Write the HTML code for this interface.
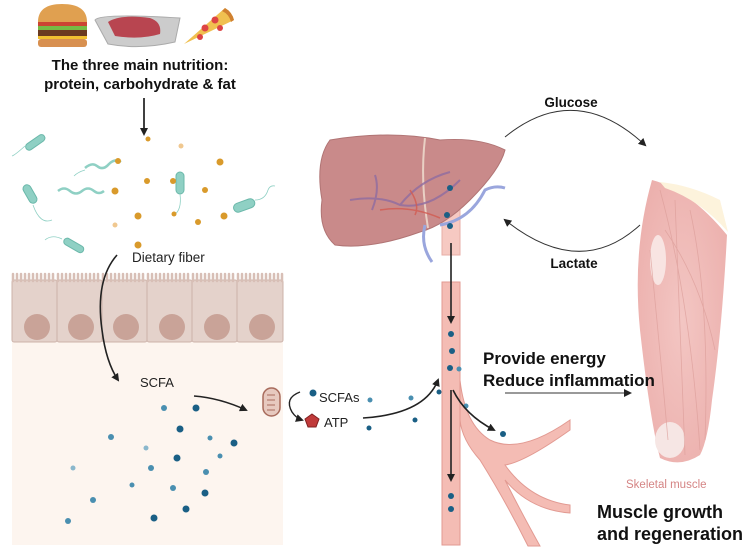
<!DOCTYPE html>
<html><head><meta charset="utf-8"><style>
html,body{margin:0;padding:0;background:#fff;}
svg{display:block;}
text{font-family:"Liberation Sans",Arial,sans-serif;}
.b{font-weight:bold;fill:#111;}
</style></head><body>
<svg width="753" height="556" viewBox="0 0 753 556" xmlns="http://www.w3.org/2000/svg">
<defs>
<marker id="ah" markerWidth="8" markerHeight="8" refX="6" refY="4" orient="auto" markerUnits="userSpaceOnUse"><path d="M0,0 L8,4 L0,8 z" fill="#222"/></marker>
<radialGradient id="mg" cx="0.5" cy="0.5" r="0.6"><stop offset="0" stop-color="#f3c6c3"/><stop offset="1" stop-color="#ecb0ad"/></radialGradient>
</defs>

<g>
<path d="M38,22 Q38,4 62,4 Q87,4 87,22 z" fill="#e0a050"/>
<rect x="38" y="22" width="49" height="4" fill="#c43"/>
<rect x="38" y="26" width="49" height="4" fill="#7b4"/>
<rect x="38" y="30" width="49" height="6" fill="#6a3a20"/>
<rect x="38" y="36" width="49" height="3" fill="#f0c030"/>
<rect x="38" y="39" width="49" height="8" rx="3" fill="#d89050"/>
<path d="M95,20 Q100,13 180,18 L175,42 Q140,50 108,44 z" fill="#ccc" stroke="#aaa"/>
<path d="M108,22 Q120,14 150,18 Q162,22 160,34 Q140,40 115,36 z" fill="#b84550"/>
<path d="M184,44 L225,8 Q232,12 234,20 z" fill="#f0c050"/>
<path d="M225,8 Q232,12 234,20 L231,22 Q229,14 222,11 z" fill="#d08030"/>
<circle cx="205" cy="28" r="3.5" fill="#d44"/><circle cx="215" cy="20" r="3.5" fill="#d44"/><circle cx="200" cy="37" r="3" fill="#d44"/><circle cx="220" cy="28" r="3" fill="#d44"/>
</g>
<text x="140" y="70" text-anchor="middle" class="b" font-size="15">The three main nutrition:</text>
<text x="140" y="89" text-anchor="middle" class="b" font-size="15">protein, carbohydrate &amp; fat</text>
<line x1="144" y1="98" x2="144" y2="134" stroke="#111" stroke-width="1.6" marker-end="url(#ah)"/>

<g fill="#8fd0c4" stroke="#6bb8aa" stroke-width="1">
<rect x="24" y="139" width="22" height="7" rx="3.5" transform="rotate(-35 35 142)"/>
<rect x="20" y="190" width="20" height="8" rx="4" transform="rotate(60 30 194)"/>
<rect x="176" y="172" width="8" height="22" rx="4"/>
<rect x="233" y="201" width="22" height="9" rx="4.5" transform="rotate(-20 244 205)"/>
<rect x="63" y="242" width="22" height="7" rx="3.5" transform="rotate(30 74 245)"/>
</g>
<g fill="none" stroke="#8fd0c4" stroke-width="2.5">
<path d="M85,168 q7,-6 12,-2 q6,5 12,-2 q6,-6 12,-2"/>
<path d="M58,191 q6,-5 12,0 q6,5 12,0 q6,-5 12,0 q5,4 10,0"/>
</g>
<g fill="none" stroke="#8fd0c4" stroke-width="0.8">
<path d="M25,146 Q15,155 12,156"/><path d="M33,205 Q40,225 52,220"/><path d="M180,194 Q182,210 174,215"/><path d="M255,200 Q265,200 268,190 Q270,185 275,186"/><path d="M62,239 Q52,234 45,240"/><path d="M85,170 Q78,172 74,176"/>
</g>
<g fill="#d99a2b">
<circle cx="148" cy="139" r="2.5"/><circle cx="118" cy="161" r="3"/><circle cx="220" cy="162" r="3.5"/><circle cx="147" cy="181" r="3"/><circle cx="173" cy="181" r="3"/><circle cx="115" cy="191" r="3.5"/><circle cx="205" cy="190" r="3"/><circle cx="138" cy="216" r="3.5"/><circle cx="174" cy="214" r="2.5"/><circle cx="198" cy="222" r="3"/><circle cx="224" cy="216" r="3.5"/><circle cx="138" cy="245" r="3.5"/>
</g>
<circle cx="181" cy="146" r="2.5" fill="#f0c890"/><circle cx="115" cy="225" r="2.5" fill="#f0c890"/>

<text x="132" y="262" font-size="13.5" fill="#222">Dietary fiber</text>

<rect x="12" y="342" width="271" height="203" fill="#fdf5ef"/>
<g fill="#e4d2cb" stroke="#cdb3aa" stroke-width="1">
<rect x="12" y="280" width="45" height="62" rx="2"/><rect x="57" y="280" width="45" height="62" rx="2"/><rect x="102" y="280" width="45" height="62" rx="2"/><rect x="147" y="280" width="45" height="62" rx="2"/><rect x="192" y="280" width="45" height="62" rx="2"/><rect x="237" y="280" width="46" height="62" rx="2"/>
</g>
<path d="M13,281 V274 M17,281 V274 M21,281 V274 M25,281 V274 M29,281 V274 M33,281 V274 M37,281 V274 M41,281 V274 M45,281 V274 M49,281 V274 M53,281 V274 M58,281 V274 M62,281 V274 M66,281 V274 M70,281 V274 M74,281 V274 M78,281 V274 M82,281 V274 M86,281 V274 M90,281 V274 M94,281 V274 M98,281 V274 M103,281 V274 M107,281 V274 M111,281 V274 M115,281 V274 M119,281 V274 M123,281 V274 M127,281 V274 M131,281 V274 M135,281 V274 M139,281 V274 M143,281 V274 M148,281 V274 M152,281 V274 M156,281 V274 M160,281 V274 M164,281 V274 M168,281 V274 M172,281 V274 M176,281 V274 M180,281 V274 M184,281 V274 M188,281 V274 M193,281 V274 M197,281 V274 M201,281 V274 M205,281 V274 M209,281 V274 M213,281 V274 M217,281 V274 M221,281 V274 M225,281 V274 M229,281 V274 M233,281 V274 M238,281 V274 M242,281 V274 M246,281 V274 M250,281 V274 M254,281 V274 M258,281 V274 M262,281 V274 M266,281 V274 M270,281 V274 M274,281 V274 M278,281 V274 M282,281 V274" stroke="#d8bfb6" stroke-width="2.5" stroke-linecap="round"/>
<g fill="#c9a398">
<circle cx="37" cy="327" r="13"/><circle cx="81" cy="327" r="13"/><circle cx="126" cy="327" r="13"/><circle cx="172" cy="327" r="13"/><circle cx="217" cy="327" r="13"/><circle cx="262" cy="327" r="13"/>
</g>
<path d="M117,255 Q95,280 102,330 Q106,362 118,380" fill="none" stroke="#222" stroke-width="1.6" marker-end="url(#ah)"/>
<text x="140" y="387" font-size="13" fill="#222">SCFA</text>
<path d="M194,396 Q220,398 246,410" fill="none" stroke="#222" stroke-width="1.6" marker-end="url(#ah)"/>

<g fill="#1a5f85">
<circle cx="196" cy="408" r="3.5"/><circle cx="180" cy="429" r="3.5"/><circle cx="234" cy="443" r="3.5"/><circle cx="177" cy="458" r="3.5"/><circle cx="205" cy="493" r="3.5"/><circle cx="186" cy="509" r="3.5"/><circle cx="154" cy="518" r="3.5"/>
</g>
<g fill="#4a8fb0">
<circle cx="164" cy="408" r="3"/><circle cx="111" cy="437" r="3"/><circle cx="210" cy="438" r="2.5"/><circle cx="151" cy="468" r="3"/><circle cx="220" cy="456" r="2.5"/><circle cx="206" cy="472" r="3"/><circle cx="132" cy="485" r="2.5"/><circle cx="173" cy="488" r="3"/><circle cx="93" cy="500" r="3"/><circle cx="68" cy="521" r="3"/><circle cx="146" cy="448" r="2.5" fill="#8ab7cc"/><circle cx="73" cy="468" r="2.5" fill="#8ab7cc"/>
</g>

<rect x="263" y="388" width="17" height="28" rx="8.5" fill="#e7c9bf" stroke="#a86b5c" stroke-width="1.5"/>
<path d="M267,395 h8 M267,400 h8 M267,405 h8 M267,410 h8" stroke="#a86b5c" stroke-width="1"/>
<path d="M300,392 Q284,398 292,412 Q296,418 302,420" fill="none" stroke="#222" stroke-width="1.4" marker-end="url(#ah)"/>
<circle cx="313" cy="393" r="3.5" fill="#1a5f85"/>
<text x="319" y="402" font-size="13" fill="#222">SCFAs</text>
<path d="M312,414 L319,419 L316,427 L308,427 L305,419 z" fill="#c03a3a" stroke="#802020"/>
<text x="324" y="427" font-size="13" fill="#222">ATP</text>
<g fill="#1a5f85"><circle cx="370" cy="400" r="2.5" fill="#4a8fb0"/><circle cx="369" cy="428" r="2.5"/><circle cx="411" cy="398" r="2.5" fill="#4a8fb0"/><circle cx="415" cy="420" r="2.5"/><circle cx="439" cy="392" r="2.5"/></g>
<path d="M363,418 Q425,414 438,380" fill="none" stroke="#222" stroke-width="1.6" marker-end="url(#ah)"/>

<g fill="#f4bcb4" stroke="#e29a92" stroke-width="1">
<path d="M442,282 H460 V545 H442 z"/>
<path d="M460,380 Q465,425 490,440 Q520,455 570,420 L570,430 Q525,462 505,465 Q530,500 570,505 L570,513 Q530,510 505,480 Q520,510 540,546 L528,546 Q505,500 480,460 Q462,440 460,420 z"/>
<path d="M442,180 H460 V255 H442 z" opacity="0.8"/>
</g>
<path d="M330,140 Q390,130 440,140 Q480,137 505,150 Q500,170 470,200 Q445,225 420,232 Q370,250 335,245 Q318,230 322,200 Q315,160 330,140 z" fill="#c98a8a" stroke="#b07474" stroke-width="1"/>
<path d="M425,138 Q420,180 428,228" stroke="#e9d0c4" stroke-width="2" fill="none"/>
<g fill="none" stroke="#8e6ba0" stroke-width="2" opacity="0.8">
<path d="M350,200 Q380,195 400,205 Q430,210 460,180 M375,175 Q380,190 372,210 M400,205 Q420,180 450,172"/>
</g>
<g fill="none" stroke="#d25a50" stroke-width="1.5" opacity="0.8">
<path d="M380,210 Q410,205 440,218 M410,190 Q420,205 415,215"/>
</g>
<path d="M425,225 Q420,245 432,262 M440,225 Q470,220 485,190 Q495,185 505,188" fill="none" stroke="#9aa6dd" stroke-width="3"/>
<g fill="#1a5f85">
<circle cx="450" cy="188" r="3"/><circle cx="447" cy="215" r="3"/><circle cx="450" cy="226" r="3"/>
<circle cx="451" cy="334" r="3"/><circle cx="452" cy="351" r="3"/><circle cx="450" cy="368" r="3"/><circle cx="459" cy="369" r="2.5" fill="#4a8fb0"/><circle cx="503" cy="434" r="3"/><circle cx="466" cy="406" r="2.5" fill="#4a8fb0"/><circle cx="451" cy="496" r="3"/><circle cx="451" cy="509" r="3"/>
</g>
<line x1="451" y1="243" x2="451" y2="322" stroke="#222" stroke-width="1.6" marker-end="url(#ah)"/>
<line x1="451" y1="390" x2="451" y2="480" stroke="#222" stroke-width="1.6" marker-end="url(#ah)"/>
<path d="M453,390 Q465,415 494,430" fill="none" stroke="#222" stroke-width="1.6" marker-end="url(#ah)"/>

<text x="571" y="107" text-anchor="middle" class="b" font-size="13.5">Glucose</text>
<path d="M505,137 Q575,80 645,145" fill="none" stroke="#333" stroke-width="1" marker-end="url(#ah)"/>
<path d="M640,225 Q580,280 505,220" fill="none" stroke="#333" stroke-width="1" marker-end="url(#ah)"/>
<text x="574" y="268" text-anchor="middle" class="b" font-size="13.5">Lactate</text>

<path d="M652,180 Q690,190 727,235 Q722,330 712,400 Q708,440 700,455 Q680,468 660,458 Q650,420 640,330 Q632,250 652,180 z" fill="url(#mg)"/>
<path d="M660,182 Q690,185 720,200 L728,232 Q700,200 665,188 z" fill="#fdf3dc"/>
<ellipse cx="658" cy="260" rx="8" ry="25" fill="#f8e4e2"/>
<ellipse cx="670" cy="440" rx="15" ry="18" fill="#f6e6e4"/>
<g fill="none" stroke="#dc9c99" stroke-width="0.8" opacity="0.7">
<path d="M660,190 Q690,300 700,450 M675,200 Q680,320 685,455 M690,210 Q710,300 705,440 M650,250 Q660,350 668,440 M665,230 Q700,280 715,350"/>
</g>

<text x="483" y="364" class="b" font-size="17">Provide energy</text>
<text x="483" y="386" class="b" font-size="17">Reduce inflammation</text>
<line x1="505" y1="393" x2="630" y2="393" stroke="#333" stroke-width="1" marker-end="url(#ah)"/>
<text x="626" y="488" font-size="11.5" fill="#d58585">Skeletal muscle</text>
<text x="597" y="518" class="b" font-size="18">Muscle growth</text>
<text x="597" y="540" class="b" font-size="18">and regeneration</text>
</svg>
</body></html>
